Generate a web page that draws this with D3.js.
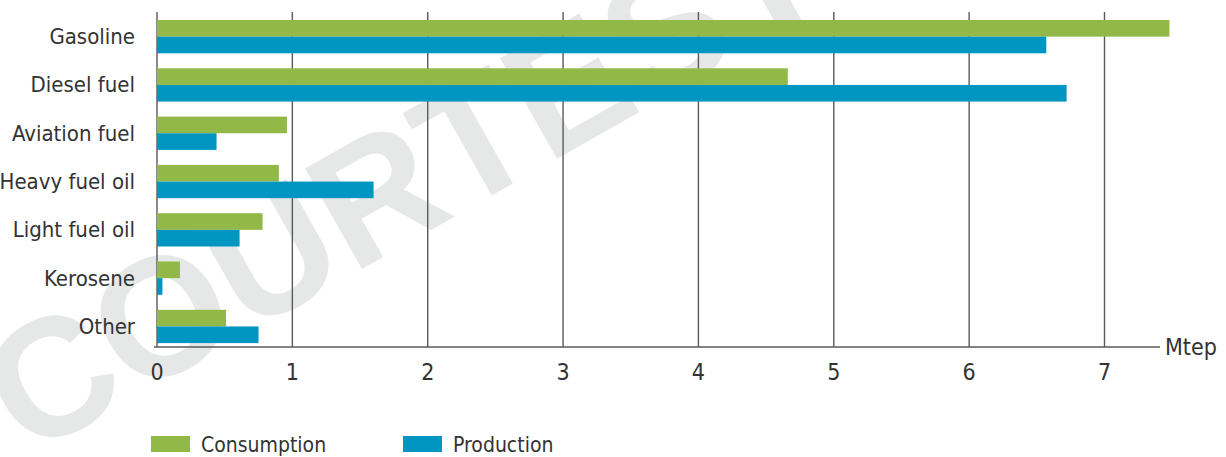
<!DOCTYPE html>
<html>
<head>
<meta charset="utf-8">
<script src="https://cdn.jsdelivr.net/npm/d3@7"></script>
<style>
  html, body { margin: 0; padding: 0; background: #fff; }
  svg { display: block; }
</style>
</head>
<body>
<div id="chart"></div>
<script>
// Data
const categories = ["Gasoline", "Diesel fuel", "Aviation fuel", "Heavy fuel oil", "Light fuel oil", "Kerosene", "Other"];
const consumption = [7.48, 4.66, 0.96, 0.90, 0.78, 0.17, 0.51];
const production = [6.57, 6.72, 0.44, 1.60, 0.61, 0.04, 0.75];
const seriesNames = ["Consumption", "Production"];
const xTicks = [0, 1, 2, 3, 4, 5, 6, 7];
const unitLabel = "Mtep";

const width = 1226;
const height = 457;
const colors = ["#92b947", "#0096c1"];
const font = "'DejaVu Sans Condensed', 'Liberation Sans Narrow', sans-serif";

const svg = d3.select("#chart").append("svg")
    .attr("width", width)
    .attr("height", height)
    .style("font-family", font);

// Watermark behind everything
svg.append("text")
    .attr("transform", "translate(405,178) rotate(-29.5)")
    .attr("text-anchor", "middle")
    .attr("dominant-baseline", "central")
    .attr("fill", "#e6e7e7")
    .style("font-family", "'Liberation Sans', Arial, sans-serif")
    .style("font-weight", "bold")
    .style("font-size", "168px")
    .text("COURTESY");

// Scales
const x = d3.scaleLinear()
    .domain([0, 7])
    .range([157, 1104.5]);

const y = d3.scaleBand()
    .domain(categories)
    .range([20, 343.1])
    .paddingInner(0.3106)
    .paddingOuter(0);

const sub = d3.scaleBand()
    .domain(seriesNames)
    .range([0, y.bandwidth()]);

const axisY = 347;

// Vertical grid lines
svg.append("g")
    .selectAll("line")
    .data(xTicks)
    .join("line")
    .attr("x1", d => x(d))
    .attr("x2", d => x(d))
    .attr("y1", 12)
    .attr("y2", axisY)
    .attr("stroke", "#5a5a5a")
    .attr("stroke-width", 1.4);

// Bars
const rows = categories.map((c, i) => ({ cat: c, vals: [consumption[i], production[i]] }));
const groups = svg.append("g")
    .selectAll("g")
    .data(rows)
    .join("g")
    .attr("transform", d => `translate(0,${y(d.cat)})`);

groups.selectAll("rect")
    .data(d => d.vals.map((v, j) => ({ v, s: seriesNames[j], j })))
    .join("rect")
    .attr("x", x(0))
    .attr("y", d => sub(d.s))
    .attr("width", d => x(d.v) - x(0))
    .attr("height", sub.bandwidth())
    .attr("fill", d => colors[d.j]);

// Bottom axis line
svg.append("line")
    .attr("x1", 154)
    .attr("x2", 1160)
    .attr("y1", axisY)
    .attr("y2", axisY)
    .attr("stroke", "#5a5a5a")
    .attr("stroke-width", 1.6);

// Tick labels
svg.append("g")
    .selectAll("text")
    .data(xTicks)
    .join("text")
    .attr("x", d => x(d))
    .attr("y", 372)
    .attr("text-anchor", "middle")
    .attr("dominant-baseline", "central")
    .attr("fill", "#333")
    .style("font-size", "23px")
    .text(d => d);

svg.append("text")
    .attr("x", 1165)
    .attr("y", 347)
    .attr("dominant-baseline", "central")
    .attr("fill", "#333")
    .style("font-size", "23px")
    .text(unitLabel);

// Category labels
svg.append("g")
    .selectAll("text")
    .data(categories)
    .join("text")
    .attr("x", 135)
    .attr("y", d => y(d) + y.bandwidth() / 2)
    .attr("text-anchor", "end")
    .attr("dominant-baseline", "central")
    .attr("fill", "#333")
    .style("font-size", "22px")
    .text(d => d);

// Legend
const legendX = [151, 403];
const legend = svg.append("g")
    .selectAll("g")
    .data(seriesNames)
    .join("g")
    .attr("transform", (d, i) => `translate(${legendX[i]},436)`);

legend.append("rect")
    .attr("width", 39)
    .attr("height", 16)
    .attr("fill", (d, i) => colors[i]);

legend.append("text")
    .attr("x", 50)
    .attr("y", 9)
    .attr("dominant-baseline", "central")
    .attr("fill", "#333")
    .style("font-size", "21px")
    .text(d => d);
</script>
</body>
</html>
